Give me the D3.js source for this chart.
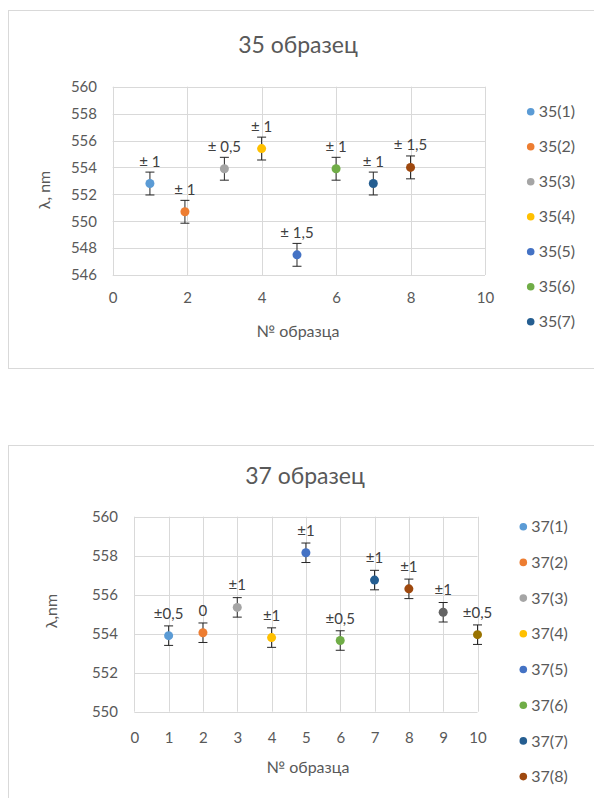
<!DOCTYPE html>
<html>
<head>
<meta charset="utf-8">
<script src="https://cdn.jsdelivr.net/npm/d3@7/dist/d3.min.js"></script>
<style>
  html, body { margin: 0; padding: 0; background: #fff; }
  svg { display: block; }
  text { font-family: Lato, "Open Sans", sans-serif; fill: #595959; }
</style>
</head>
<body>
<svg id="root" width="594" height="798"></svg>
<script>
// Office palette used for the individual sample series
const palette = ["#5B9BD5", "#ED7D31", "#A5A5A5", "#FFC000", "#4472C4",
                 "#70AD47", "#255E91", "#9E480E", "#636363", "#997300"];

// ---- Sample 35 ----
const names35 = ["35(1)", "35(2)", "35(3)", "35(4)", "35(5)", "35(6)", "35(7)", "35(8)"];
const x35 = [1, 1.94, 3, 4, 4.95, 6, 7, 8];
const lambda35 = [552.8, 550.7, 553.9, 555.4, 547.5, 553.9, 552.8, 554.0];
const err35 = [0.85, 0.85, 0.85, 0.85, 0.85, 0.85, 0.85, 0.85];
const notes35 = ["± 1", "± 1", "± 0,5", "± 1", "± 1,5", "± 1", "± 1", "± 1,5"];
const xTicks35 = [0, 2, 4, 6, 8, 10];
const yTicks35 = [546, 548, 550, 552, 554, 556, 558, 560];
const legend35 = names35.slice(0, 7);

// ---- Sample 37 ----
const names37 = ["37(1)", "37(2)", "37(3)", "37(4)", "37(5)", "37(6)", "37(7)", "37(8)", "37(9)", "37(10)"];
const x37 = [1, 2, 3, 4, 5, 6, 7, 8, 9, 10];
const lambda37 = [553.9, 554.05, 555.35, 553.8, 558.15, 553.65, 556.75, 556.3, 555.1, 553.95];
const err37 = [0.5, 0.5, 0.5, 0.5, 0.5, 0.5, 0.5, 0.5, 0.5, 0.5];
const notes37 = ["±0,5", "0", "±1", "±1", "±1", "±0,5", "±1", "±1", "±1", "±0,5"];
const xTicks37 = [0, 1, 2, 3, 4, 5, 6, 7, 8, 9, 10];
const yTicks37 = [550, 552, 554, 556, 558, 560];
const legend37 = names37.slice(0, 8);

const svg = d3.select("#root");

function drawChart(cfg) {
  const g = svg.append("g");

  // chart frame
  g.append("rect")
    .attr("x", cfg.frame[0] + 0.5).attr("y", cfg.frame[1] + 0.5)
    .attr("width", cfg.frame[2]).attr("height", cfg.frame[3])
    .attr("fill", "#fff").attr("stroke", "#D9D9D9").attr("stroke-width", 1);

  const x = d3.scaleLinear().domain(cfg.xDomain).range(cfg.xRange);
  const y = d3.scaleLinear().domain(cfg.yDomain).range(cfg.yRange);

  // title
  g.append("text")
    .attr("x", cfg.titlePos[0]).attr("y", cfg.titlePos[1])
    .attr("text-anchor", "middle")
    .style("font-size", "23px")
    .text(cfg.title);

  // gridlines
  g.append("g").selectAll("line").data(cfg.yTicks).join("line")
    .attr("x1", cfg.xRange[0]).attr("x2", cfg.xRange[1])
    .attr("y1", d => Math.round(y(d)) + 0.5).attr("y2", d => Math.round(y(d)) + 0.5)
    .attr("stroke", "#D9D9D9");
  g.append("g").selectAll("line").data(cfg.xTicks).join("line")
    .attr("y1", cfg.yRange[0]).attr("y2", cfg.yRange[1])
    .attr("x1", d => Math.round(x(d)) + 0.5).attr("x2", d => Math.round(x(d)) + 0.5)
    .attr("stroke", "#D9D9D9");

  // axes (labels only, no tick marks)
  const yAxis = d3.axisLeft(y).tickValues(cfg.yTicks).tickSize(0).tickPadding(0);
  const ya = g.append("g")
    .attr("transform", `translate(${cfg.yLabelX},0)`)
    .call(yAxis);
  ya.select(".domain").remove();
  ya.selectAll("text").style("font-size", "15px").attr("fill", "#595959")
    .attr("font-family", "Lato, sans-serif");

  const xAxis = d3.axisBottom(x).tickValues(cfg.xTicks).tickSize(0).tickPadding(0);
  const xa = g.append("g")
    .attr("transform", `translate(0,${cfg.xLabelY})`)
    .call(xAxis);
  xa.select(".domain").remove();
  xa.selectAll("text").style("font-size", "15px").attr("fill", "#595959")
    .attr("font-family", "Lato, sans-serif");

  // axis titles
  g.append("text")
    .attr("x", cfg.xTitlePos[0]).attr("y", cfg.xTitlePos[1])
    .attr("text-anchor", "middle").style("font-size", "16px")
    .text("№ образца");
  g.append("text")
    .attr("transform", `translate(${cfg.yTitlePos[0]},${cfg.yTitlePos[1]}) rotate(-90)`)
    .attr("text-anchor", "middle").style("font-size", "16px")
    .text(cfg.yTitle);

  const pts = cfg.xs.map((xv, i) => ({
    x: xv, v: cfg.vals[i], e: cfg.errs[i], note: cfg.notes[i], c: palette[i]
  }));

  // error bars
  const eb = g.append("g").selectAll("g").data(pts).join("g")
    .attr("stroke", "#262626").attr("stroke-width", 1);
  eb.append("line")
    .attr("x1", d => x(d.x)).attr("x2", d => x(d.x))
    .attr("y1", d => y(d.v + d.e)).attr("y2", d => y(d.v - d.e));
  eb.append("line")
    .attr("x1", d => x(d.x) - 4.5).attr("x2", d => x(d.x) + 4.5)
    .attr("y1", d => y(d.v + d.e)).attr("y2", d => y(d.v + d.e));
  eb.append("line")
    .attr("x1", d => x(d.x) - 4.5).attr("x2", d => x(d.x) + 4.5)
    .attr("y1", d => y(d.v - d.e)).attr("y2", d => y(d.v - d.e));

  // markers
  g.append("g").selectAll("circle").data(pts).join("circle")
    .attr("cx", d => x(d.x)).attr("cy", d => y(d.v))
    .attr("r", 4.5).attr("fill", d => d.c);

  // uncertainty notes above each point
  g.append("g").selectAll("text").data(pts).join("text")
    .attr("x", d => x(d.x)).attr("y", d => y(d.v) - cfg.noteOffset)
    .attr("text-anchor", "middle")
    .style("font-size", "15px").style("fill", "#404040")
    .text(d => d.note);

  // legend
  const lg = g.append("g").selectAll("g").data(cfg.legend).join("g")
    .attr("transform", (d, i) => `translate(${cfg.legendX},${cfg.legendY + i * cfg.legendStep})`);
  lg.append("circle").attr("r", 3.8).attr("fill", (d, i) => palette[i]);
  lg.append("text").attr("x", 8).attr("dy", "0.35em")
    .style("font-size", "16px").text(d => d);
}

drawChart({
  frame: [8, 10, 620, 358],
  title: "35 образец", titlePos: [298, 53],
  xDomain: [0, 10], xRange: [112.7, 485],
  yDomain: [546, 560], yRange: [275, 86.7],
  xTicks: xTicks35, yTicks: yTicks35,
  yLabelX: 97, xLabelY: 292,
  xTitlePos: [298, 337], yTitlePos: [50, 190], yTitle: "λ, nm",
  xs: x35, vals: lambda35, errs: err35, notes: notes35, noteOffset: 17,
  legend: legend35, legendX: 530.7, legendY: 111.7, legendStep: 35
});

drawChart({
  frame: [8, 445, 620, 400],
  title: "37 образец", titlePos: [305, 484],
  xDomain: [0, 10], xRange: [134.3, 477.5],
  yDomain: [550, 560], yRange: [711.7, 516.7],
  xTicks: xTicks37, yTicks: yTicks37,
  yLabelX: 118, xLabelY: 732,
  xTitlePos: [308, 773], yTitlePos: [57, 611], yTitle: "λ,nm",
  xs: x37, vals: lambda37, errs: err37, notes: notes37, noteOffset: 17,
  legend: legend37, legendX: 523.3, legendY: 526.7, legendStep: 35.7
});
</script>
</body>
</html>
